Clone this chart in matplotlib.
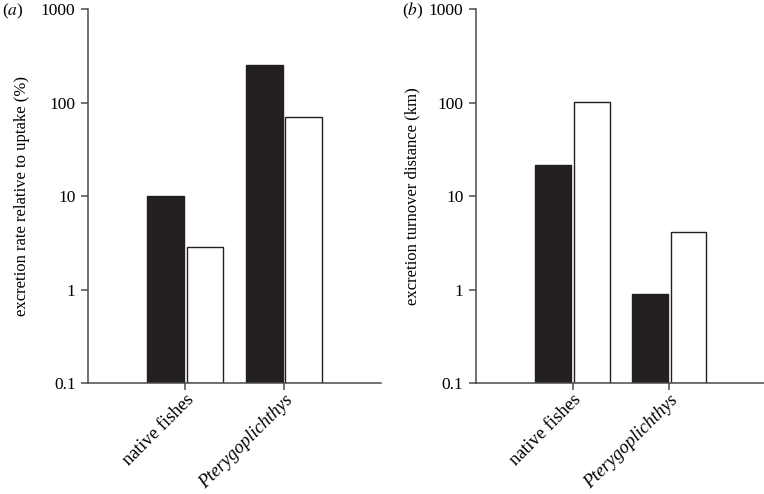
import numpy as np
import matplotlib.pyplot as plt

# data (log scale)
categories = ['native fishes', 'Pterygoplichthys']
rate_black = [10.0, 257.0]
rate_white = [2.78, 69.7]
dist_black = [21.7, 0.8]
dist_white = [102.0, 4.05]
ytick_vals = [0.1, 1, 10, 100, 1000]
ytick_labels = ['0.1', '1', '10', '100', '1000']

plt.rcParams['font.family'] = ['Liberation Serif', 'DejaVu Serif']
plt.rcParams['mathtext.fontset'] = 'stix'

fig = plt.figure(figsize=(7.64, 4.94), dpi=100)
ax1 = fig.add_axes([0.1152, 0.2247, 0.3835, 0.7561])
ax2 = fig.add_axes([0.623, 0.2247, 0.377, 0.7561])

x = np.arange(len(categories))
w = 0.37
fs = 12.5
spine_col = '#4a4a4a'


def panel(ax, black, white, ylabel, xlim, lpad):
    ax.bar(x - 0.2, black, width=w, bottom=0.1, color='#231f20',
           edgecolor='#231f20', linewidth=1)
    ax.bar(x + 0.2, white, width=w, bottom=0.1, color='white',
           edgecolor='#231f20', linewidth=1)
    ax.set_yscale('log')
    ax.set_ylim(0.1, 1000)
    ax.set_xlim(*xlim)
    ax.set_yticks(ytick_vals)
    ax.set_yticklabels(ytick_labels)
    ax.minorticks_off()
    ax.set_xticks(x)
    ax.set_xticklabels(categories, rotation=45, ha='right',
                       rotation_mode='anchor', fontsize=13.2)
    ax.get_xticklabels()[1].set_style('italic')
    for s in ['top', 'right']:
        ax.spines[s].set_visible(False)
    for s in ['left', 'bottom']:
        ax.spines[s].set_color(spine_col)
        ax.spines[s].set_linewidth(1.1)
    ax.tick_params(direction='out', length=5, width=1.1, color=spine_col)
    ax.tick_params(axis='x', pad=1)
    ax.tick_params(axis='y', pad=4, labelsize=fs)
    ax.set_ylabel(ylabel, fontsize=12, labelpad=lpad)


panel(ax1, rate_black, rate_white,
      'excretion rate relative to uptake (%)', (-0.98, 1.98), 8)
panel(ax2, dist_black, dist_white,
      'excretion turnover distance (km)', (-1.0, 1.98), 6)

fig.text(0.002, 0.977, r'($\mathit{a}$)', fontsize=fs, va='center', ha='left')
fig.text(0.526, 0.977, r'($\mathit{b}$)', fontsize=fs, va='center', ha='left')

fig.savefig('out.png', dpi=100)
